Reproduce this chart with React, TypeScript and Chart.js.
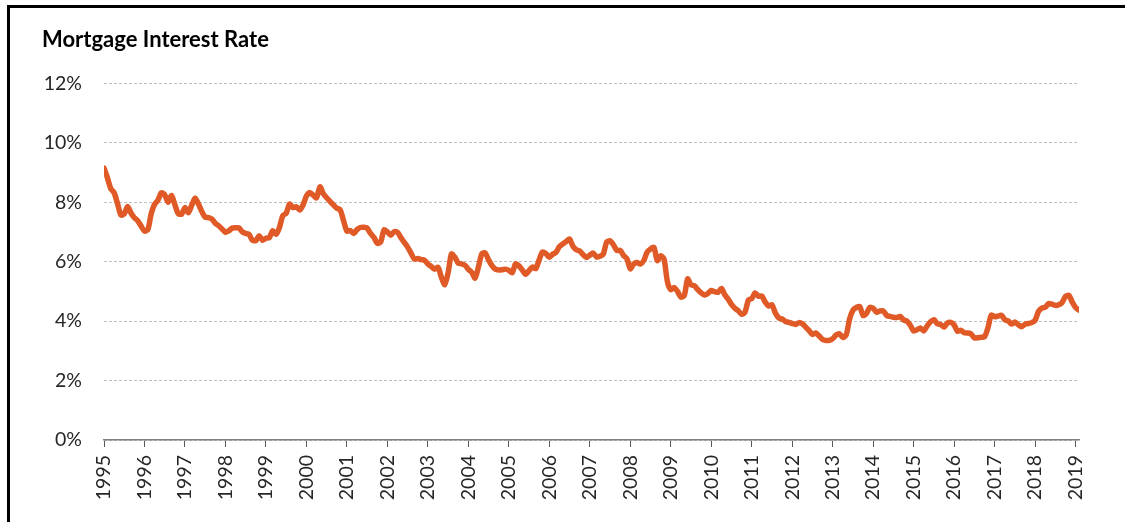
import React, { useEffect, useRef } from "react";
import { Chart, registerables } from "chart.js";

Chart.register(...registerables);

const chartTitle = "Mortgage Interest Rate";
const startYear = 1995;

// Monthly average rate (%), Jan 1995 .. Feb 2019
const monthlyRates: number[] = [
  // 1995
  9.15, 8.83, 8.46, 8.32, 7.96, 7.57, 7.61, 7.86, 7.64, 7.48, 7.38, 7.2,
  // 1996
  7.03, 7.08, 7.62, 7.93, 8.07, 8.32, 8.25, 8.0, 8.23, 7.92, 7.62, 7.6,
  // 1997
  7.82, 7.65, 7.9, 8.14, 7.94, 7.69, 7.5, 7.48, 7.43, 7.29, 7.21, 7.1,
  // 1998
  6.99, 7.04, 7.13, 7.14, 7.14, 7.0, 6.95, 6.92, 6.72, 6.71, 6.87, 6.72,
  // 1999
  6.79, 6.81, 7.04, 6.92, 7.15, 7.55, 7.63, 7.94, 7.82, 7.85, 7.74, 7.91,
  // 2000
  8.21, 8.33, 8.24, 8.15, 8.52, 8.29, 8.15, 8.03, 7.91, 7.8, 7.75, 7.38,
  // 2001
  7.03, 7.05, 6.95, 7.08, 7.15, 7.16, 7.13, 6.95, 6.82, 6.62, 6.66, 7.07,
  // 2002
  7.0, 6.89, 7.01, 6.99, 6.81, 6.65, 6.49, 6.29, 6.09, 6.11, 6.07, 6.05,
  // 2003
  5.92, 5.84, 5.75, 5.81, 5.48, 5.23, 5.63, 6.26, 6.15, 5.95, 5.93, 5.88,
  // 2004
  5.74, 5.64, 5.45, 5.83, 6.27, 6.29, 6.06, 5.87, 5.75, 5.72, 5.73, 5.75,
  // 2005
  5.71, 5.63, 5.93, 5.86, 5.72, 5.58, 5.7, 5.82, 5.77, 6.07, 6.33, 6.27,
  // 2006
  6.15, 6.25, 6.32, 6.51, 6.6, 6.68, 6.76, 6.52, 6.4, 6.36, 6.24, 6.14,
  // 2007
  6.22, 6.29, 6.16, 6.18, 6.26, 6.66, 6.7, 6.57, 6.38, 6.38, 6.21, 6.1,
  // 2008
  5.76, 5.92, 5.97, 5.92, 6.04, 6.32, 6.43, 6.48, 6.04, 6.2, 6.09, 5.33,
  // 2009
  5.06, 5.13, 5.0, 4.81, 4.86, 5.42, 5.22, 5.19, 5.06, 4.95, 4.88, 4.93,
  // 2010
  5.03, 4.99, 4.97, 5.1, 4.89, 4.74, 4.56, 4.43, 4.35, 4.23, 4.3, 4.71,
  // 2011
  4.76, 4.95, 4.84, 4.84, 4.64, 4.51, 4.55, 4.27, 4.11, 4.07, 3.99, 3.96,
  // 2012
  3.92, 3.89, 3.95, 3.91, 3.8, 3.68, 3.55, 3.6, 3.5, 3.38, 3.35, 3.35,
  // 2013
  3.41, 3.53, 3.57, 3.45, 3.54, 4.07, 4.37, 4.46, 4.49, 4.19, 4.26, 4.46,
  // 2014
  4.43, 4.3, 4.34, 4.34, 4.19, 4.16, 4.13, 4.12, 4.16, 4.04, 4.0, 3.86,
  // 2015
  3.67, 3.71, 3.77, 3.67, 3.84, 3.98, 4.05, 3.91, 3.89, 3.8, 3.94, 3.96,
  // 2016
  3.87, 3.66, 3.69, 3.61, 3.6, 3.57, 3.44, 3.44, 3.46, 3.47, 3.77, 4.2,
  // 2017
  4.15, 4.17, 4.2, 4.05, 4.01, 3.9, 3.97, 3.88, 3.81, 3.9, 3.92, 3.95,
  // 2018
  4.03, 4.33, 4.44, 4.47, 4.59, 4.57, 4.53, 4.55, 4.63, 4.83, 4.87, 4.64,
  // 2019
  4.46, 4.37,
];

const yearTicks: number[] = [
  1995, 1996, 1997, 1998, 1999, 2000, 2001, 2002, 2003, 2004, 2005, 2006,
  2007, 2008, 2009, 2010, 2011, 2012, 2013, 2014, 2015, 2016, 2017, 2018, 2019,
];

const yMin = 0;
const yMax = 12;
const yStep = 2;

export default function App() {
  const canvasRef = useRef<HTMLCanvasElement | null>(null);

  useEffect(() => {
    const canvas = canvasRef.current;
    if (!canvas) return;
    const points = monthlyRates.map((v, i) => ({ x: startYear + i / 12, y: v }));
    const lastX = startYear + (monthlyRates.length - 1) / 12;

    const chart = new Chart(canvas, {
      type: "line",
      data: {
        datasets: [
          {
            label: chartTitle,
            data: points,
            borderColor: "#DF5A26",
            borderWidth: 5.5,
            pointRadius: 0,
            tension: 0.25,
            borderCapStyle: "round",
            borderJoinStyle: "round",
            fill: false,
          },
        ],
      },
      options: {
        responsive: false,
        animation: false,
        layout: { padding: { left: 32, right: 46, top: 0, bottom: 8 } },
        plugins: {
          legend: { display: false },
          tooltip: { enabled: false },
          title: {
            display: true,
            text: chartTitle,
            align: "start",
            color: "#000000",
            font: { family: "Lato", size: 22, weight: "bold" },
            padding: { top: 19, bottom: 30 },
          },
        },
        scales: {
          x: {
            type: "linear",
            min: startYear,
            max: lastX,
            afterBuildTicks: (scale: any) => {
              scale.ticks = yearTicks.map((v) => ({ value: v }));
            },
            afterFit: (scale: any) => {
              scale.height = 74;
            },
            grid: {
              drawOnChartArea: false,
              drawTicks: true,
              tickLength: 7,
              tickColor: "#595959",
              tickWidth: 1,
            },
            border: { display: true, color: "#7F7F7F", width: 1.5 },
            ticks: {
              autoSkip: false,
              minRotation: 90,
              maxRotation: 90,
              padding: 8,
              color: "#262626",
              font: { family: "Lato", size: 19.5 },
              callback: (v: any) => String(v),
            },
          },
          y: {
            min: yMin,
            max: yMax,
            afterFit: (scale: any) => {
              scale.width = 62;
            },
            grid: {
              color: "#BFBFBF",
              lineWidth: 1,
              drawTicks: false,
            },
            border: { display: false, dash: [3, 2] },
            ticks: {
              stepSize: yStep,
              padding: 22,
              color: "#262626",
              font: { family: "Lato", size: 19.5 },
              callback: (v: any) => `${v}%`,
            },
          },
        },
      },
    } as any);

    return () => chart.destroy();
  }, []);

  return (
    <div
      style={{
        position: "absolute",
        left: 7,
        top: 5,
        width: 1118,
        height: 517,
        borderTop: "3px solid #000",
        borderLeft: "3px solid #000",
        background: "#fff",
      }}
    >
      <canvas
        ref={canvasRef}
        width={1115}
        height={514}
        style={{ display: "block", width: 1115, height: 514 }}
      />
    </div>
  );
}
